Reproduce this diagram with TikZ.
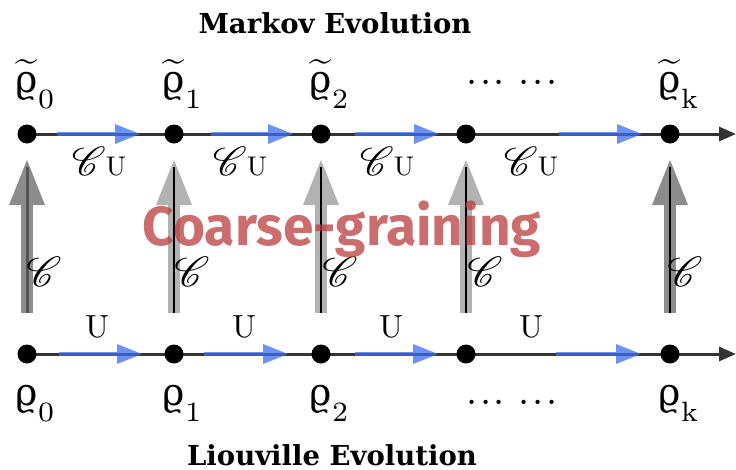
\documentclass[tikz,border=0pt]{standalone}
\usepackage{fontspec}
\usepackage{graphicx}
\usepackage{mathrsfs}
\newfontfamily\titlefont{DejaVu Serif}
\newfontfamily\rhofont{DejaVu Serif}
\newfontfamily\cgfont{Fira Sans}
\usetikzlibrary{arrows.meta,backgrounds}
\definecolor{axisgray}{RGB}{51,51,51}
\definecolor{flowblue}{RGB}{60,110,240}
\definecolor{cgred}{RGB}{185,60,60}
\definecolor{cgdark}{RGB}{140,140,140}
\definecolor{cglight}{RGB}{178,178,178}
\definecolor{cgcore}{RGB}{85,85,85}
\newcommand{\myrho}{\hbox{\rhofont\fontsize{9.5}{10}\selectfont ϱ}}
\newcommand{\mysub}[1]{\lower4pt\hbox{\fontsize{7}{8}\selectfont #1}}
\newcommand{\trho}[1]{$\widetilde{\myrho}$\mysub{#1}}
\newcommand{\brho}[1]{\myrho\mysub{#1}}
\newcommand{\scrC}{\scalebox{1.5}{$\mathscr{C}$}}
\newcommand{\mydots}{.\kern0.6pt.\kern0.6pt.\kern3.5pt.\kern0.6pt.\kern0.6pt.}
\begin{document}
\begin{tikzpicture}[x=1pt,y=-1pt,
  state/.style={circle,fill=black,inner sep=0pt,minimum size=19pt},
  axisline/.style={draw=axisgray,line width=3pt,-{Triangle[length=17pt,width=14pt]}},
  flow/.style={draw=flowblue,line width=4.5pt,opacity=0.75,-{Triangle[length=25pt,width=20pt,line width=0pt]}},
  bigup/.style={line width=12pt,-{Triangle[length=45pt,width=36pt,line width=0pt]}},
  darkup/.style={bigup,draw=cgdark},
  lightup/.style={bigup,draw=cglight},
  coreline/.style={line width=1.2pt,draw=black},
  titletext/.style={font=\titlefont\bfseries\fontsize{27.5}{30}\selectfont,anchor=base,inner sep=0pt,text depth=0pt},
  rholabel/.style={scale=4,anchor=base west,inner sep=0pt},
  cuabel/.style={scale=2.7,anchor=base,inner sep=0pt},
  ulabel/.style={scale=3.2,anchor=base,inner sep=0pt},
  clabel/.style={scale=2.8,anchor=center,inner sep=0pt},
  dotslabel/.style={scale=4,anchor=base west,inner sep=0pt}
]
\useasboundingbox (0,0) rectangle (736,469);

% state dots
\node[state] (m0) at (27,134) {};
\node[state] (m1) at (174,134) {};
\node[state] (m2) at (321,134) {};
\node[state] (m3) at (466,134) {};
\node[state] (m4) at (670,134) {};
\node[state] (l0) at (27,354) {};
\node[state] (l1) at (174,354) {};
\node[state] (l2) at (321,354) {};
\node[state] (l3) at (466,354) {};
\node[state] (l4) at (670,354) {};
\coordinate (mend) at (736,134);
\coordinate (lend) at (736,354);

\begin{pgfonlayer}{background}
  \draw[axisline] (m0.center) -- (mend);
  \draw[axisline] (l0.center) -- (lend);
  \draw[flow, shorten <=30pt, shorten >=34pt] (m0.center) -- (m1.center);
  \draw[flow, shorten <=37pt, shorten >=28pt] (m1.center) -- (m2.center);
  \draw[flow, shorten <=34pt, shorten >=27pt] (m2.center) -- (m3.center);
  \draw[flow, shorten <=93pt, shorten >=28pt] (m3.center) -- (m4.center);
  \draw[flow, shorten <=32pt, shorten >=32pt] (l0.center) -- (l1.center);
  \draw[flow, shorten <=30pt, shorten >=33pt] (l1.center) -- (l2.center);
  \draw[flow, shorten <=34pt, shorten >=28pt] (l2.center) -- (l3.center);
  \draw[flow, shorten <=90pt, shorten >=29pt] (l3.center) -- (l4.center);
\end{pgfonlayer}

% coarse-graining arrows
\draw[darkup, shorten <=41pt, shorten >=26pt] (l0.center) -- (m0.center);
\draw[line width=3pt, draw=cgcore, shorten <=41pt, shorten >=33pt] (l0.center) -- (m0.center);
\foreach \i in {1,2,3}{
  \draw[lightup, shorten <=41pt, shorten >=26pt] (l\i.center) -- (m\i.center);
  \draw[coreline, shorten <=41pt, shorten >=33pt] (l\i.center) -- (m\i.center);
}
\draw[darkup, shorten <=41pt, shorten >=26pt] (l4.center) -- (m4.center);
\draw[coreline, shorten <=41pt, shorten >=33pt] (l4.center) -- (m4.center);

% titles
\node[titletext] (tmarkov) at (335,33) {Markov Evolution};
\node[titletext] (tliou) at (332,465) {Liouville Evolution};

% top state labels
\node[rholabel] (rt0) at (15,92) {\trho{0}};
\node[rholabel] (rt1) at (162,92) {\trho{1}};
\node[rholabel] (rt2) at (309,92) {\trho{2}};
\node[rholabel] (rtk) at (658,92) {\trho{k}};
\node[dotslabel] (dt) at (466,84) {\mydots};

% bottom state labels
\node[rholabel] (rb0) at (15,405) {\brho{0}};
\node[rholabel] (rb1) at (162,405) {\brho{1}};
\node[rholabel] (rb2) at (309,405) {\brho{2}};
\node[rholabel] (rbk) at (658,405) {\brho{k}};
\node[dotslabel] (db) at (466,404) {\mydots};

% CU labels
\node[cuabel] (cu0) at (99,175) {$\scrC\mathrm{U}$};
\node[cuabel] (cu1) at (240,175) {$\scrC\mathrm{U}$};
\node[cuabel] (cu2) at (387,175) {$\scrC\mathrm{U}$};
\node[cuabel] (cu3) at (531,175) {$\scrC\mathrm{U}$};

% U labels
\node[ulabel] (u0) at (97,337) {U};
\node[ulabel] (u1) at (244,337) {U};
\node[ulabel] (u2) at (391,337) {U};
\node[ulabel] (u3) at (531,337) {U};

% C labels
\node[clabel] (c0) at (44,272) {$\scrC$};
\node[clabel] (c1) at (192,272) {$\scrC$};
\node[clabel] (c2) at (340,272) {$\scrC$};
\node[clabel] (c3) at (485,272) {$\scrC$};
\node[clabel] (c4) at (685,272) {$\scrC$};

% overlay text
\node[anchor=base, text=cgred, text opacity=0.75, font=\cgfont\bfseries\fontsize{55}{60}\selectfont] (cg) at (342,245) {Coarse-graining};
\end{tikzpicture}
\end{document}
